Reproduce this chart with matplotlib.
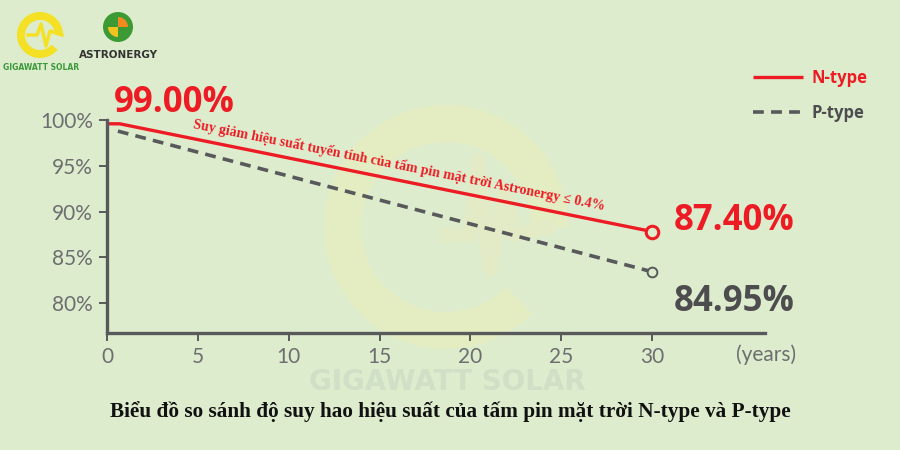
import matplotlib.pyplot as plt
from matplotlib.patches import Wedge, Circle

# data
years_n = [0, 0.7, 30]
eff_n = [99.6, 99.6, 87.8]
years_p = [0.6, 30]
eff_p = [98.8, 83.4]
ticks_x = [0, 5, 10, 15, 20, 25, 30]
ticks_y = [80, 85, 90, 95, 100]
label_start = "99.00%"
label_n = "87.40%"
label_p = "84.95%"

BG = "#deecce"
RED = "#ed1c24"
GREY = "#58595b"
TICK = "#6d6e70"

fig = plt.figure(figsize=(9, 4.5), dpi=100)
fig.patch.set_facecolor(BG)

# overlay in pixel coords for logos and watermark
deco = fig.add_axes([0, 0, 1, 1], zorder=0)
deco.set_xlim(0, 900)
deco.set_ylim(450, 0)
deco.axis("off")
deco.set_facecolor("none")

# watermark G
deco.add_patch(Wedge((446, 227), 122, 45, 360, width=37, facecolor="#e4ecc2", edgecolor="none"))
deco.plot([446, 470, 478, 490, 505, 515, 548], [235, 235, 160, 270, 190, 235, 227], color="#e2ebc6", lw=10)
deco.text(447, 382, "GIGAWATT SOLAR", ha="center", va="center", fontsize=20,
          fontweight="bold", color="#d0e0c6", family="DejaVu Sans")

# logos
deco.add_patch(Wedge((40, 35), 23, 40, 360, width=8, facecolor="#f4e024", edgecolor="none"))
deco.plot([28, 37, 41, 46, 50, 62], [35, 35, 24, 46, 31, 35], color="#f4e024", lw=2.5)
deco.text(41, 67, "GIGAWATT SOLAR", ha="center", va="center", fontsize=5.5,
          fontweight="bold", color="#3a9a3a")
deco.add_patch(Circle((118, 27), 15, facecolor="#3c9a35", edgecolor="none"))
deco.add_patch(Wedge((118, 27), 10, 270, 360, facecolor="#f28a1f", edgecolor="none"))
deco.add_patch(Wedge((118, 27), 10, 90, 180, facecolor="#f2c21f", edgecolor="none"))
deco.text(118, 55, "ASTRONERGY", ha="center", va="center", fontsize=7.5,
          fontweight="bold", color="#333333")

ax = fig.add_axes([0.1189, 0.26, 0.731, 0.473], zorder=2)
ax.set_facecolor("none")

ax.plot(years_n, eff_n, color=RED, lw=2.4, solid_capstyle="butt", clip_on=False, label="N-type")
ax.plot(years_p, eff_p, color=GREY, lw=2.6, dashes=(3, 2), clip_on=False, label="P-type")
ax.plot(years_n[-1], eff_n[-1], "o", ms=9, mfc=BG, mec=RED, mew=2.2, clip_on=False, zorder=5)
ax.plot(years_p[-1], eff_p[-1], "o", ms=7, mfc=BG, mec=GREY, mew=1.4, clip_on=False, zorder=5)

ax.set_xlim(0, 36.2)
ax.set_ylim(76.7, 100)
ax.set_xticks(ticks_x)
ax.set_yticks(ticks_y)
ax.set_xticklabels([str(t) for t in ticks_x])
ax.set_yticklabels([f"{t}%" for t in ticks_y])

for s in ["top", "right"]:
    ax.spines[s].set_visible(False)
for s in ["left", "bottom"]:
    ax.spines[s].set_color(GREY)
    ax.spines[s].set_linewidth(2.4)
ax.tick_params(axis="both", colors=GREY, width=1.4, length=6, direction="out",
               labelsize=15, labelcolor=TICK, pad=4)
for lab in ax.get_xticklabels() + ax.get_yticklabels():
    lab.set_family("Lato")

ax.text(1.002, -0.1, "(years)", transform=ax.transAxes, ha="center", va="center",
        fontsize=15, color=TICK, family="Lato")

# value labels
ax.text(0.4, 99.9, label_start, ha="left", va="bottom", fontsize=25, fontweight="bold",
        color=RED, family="Open Sans")
ax.text(31.2, eff_n[-1] + 1.2, label_n, ha="left", va="center", fontsize=25, fontweight="bold",
        color=RED, family="Open Sans")
ax.text(31.2, eff_p[-1] - 3.3, label_p, ha="left", va="center", fontsize=25, fontweight="bold",
        color="#4d4d4f", family="Open Sans")

ax.text(16.0, 94.6, "Suy giảm hiệu suất tuyến tính của tấm pin mặt trời Astronergy ≤ 0.4%",
        ha="center", va="baseline", rotation=-11.3, rotation_mode="anchor", fontsize=10,
        fontweight="bold", color=RED, family="Liberation Serif")

leg = ax.legend(loc="upper left", bbox_to_anchor=(0.82, 0.88), bbox_transform=fig.transFigure,
                frameon=False, handlelength=3.0, handletextpad=0.5, labelspacing=1.0,
                prop={"family": "Open Sans", "weight": "bold", "size": 12})
leg.get_texts()[0].set_color(RED)
leg.get_texts()[1].set_color("#4d4d4f")

fig.text(0.5, 0.085, "Biểu đồ so sánh độ suy hao hiệu suất của tấm pin mặt trời N-type và P-type",
         ha="center", va="center", fontsize=15.3, fontweight="bold", color="#111111",
         family="Liberation Serif")

fig.savefig("out.png", dpi=100, facecolor=BG)
